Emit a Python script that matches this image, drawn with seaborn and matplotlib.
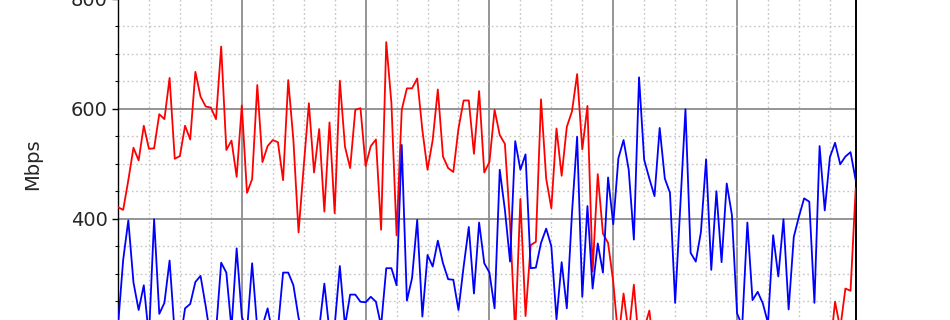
import matplotlib
matplotlib.use("Agg")
import matplotlib.pyplot as plt
from matplotlib.ticker import MultipleLocator, NullFormatter
import seaborn as sns
import pandas as pd

red_values = [
    421, 416, 470, 529, 506, 569, 527, 528, 590, 581, 656, 509, 514, 569, 544, 667,
    622, 604, 602, 581, 713, 525, 542, 476, 606, 447, 472, 643, 503, 532, 543, 539,
    470, 652, 543, 375, 495, 610, 484, 563, 413, 575, 410, 651, 531, 492, 598, 601,
    496, 532, 544, 380, 721, 610, 370, 598, 637, 637, 655, 561, 489, 543, 635, 513,
    492, 485, 564, 615, 615, 518, 632, 484, 503, 598, 552, 536, 390, 190, 436, 223,
    352, 358, 617, 473, 419, 564, 478, 567, 595, 663, 526, 605, 304, 481, 373, 356,
    285, 180, 264, 190, 280, 170, 200, 233,
    150, 185, 120, 160, 140, 195, 110, 170, 150, 130, 180, 160, 105, 145, 175, 130,
    155, 190, 120, 140, 165, 100, 150, 180, 135, 160, 115, 170, 145, 125, 190, 150,
    135, 170, 160,
    249, 200, 273, 269, 455,
]

blue_values = [
    205, 325, 397, 284, 234, 279, 185, 399, 227, 247, 324, 190, 175, 237, 245, 285,
    296, 241, 180, 195, 320, 302, 200, 346, 222, 195, 319, 200, 205, 237, 190, 200,
    302, 302, 279, 220, 180, 170, 185, 200, 282, 195, 205, 314, 205, 262, 262, 249,
    248, 258, 249, 205, 310, 310, 279, 534, 251, 292, 398, 222, 334, 313, 360, 319,
    290, 289, 234, 313, 385, 264, 393, 319, 302, 237, 489, 416, 322, 541, 489, 517,
    310, 311, 356, 382, 350, 217, 321, 237, 410, 549, 258, 423, 273, 355, 302, 475,
    390, 510, 543, 489, 362, 657, 507, 473, 441, 565, 473, 447, 247, 422, 599, 338,
    322, 376, 508, 307, 450, 321, 464, 407, 228, 205, 393, 252, 267, 246, 210, 370,
    295, 399, 235, 367, 404, 437, 431, 247, 532, 415, 512, 538, 499, 513, 521, 470,
]

sample_index = list(range(len(blue_values)))
y_ticks = [400, 600, 800]
y_label = "Mbps"

df = pd.DataFrame({"t": sample_index, "red": red_values, "blue": blue_values})

sns.set_style("white")
plt.rcParams["font.family"] = ["DejaVu Sans"]

fig = plt.figure(figsize=(9.5, 3.2), dpi=100)
ax = fig.add_axes([118 / 950, -8.7 / 320, 737.7 / 950, 330.0 / 320])

sns.lineplot(data=df, x="t", y="red", color="#ff0000", linewidth=1.3, ax=ax, zorder=3)
sns.lineplot(data=df, x="t", y="blue", color="#0000ff", linewidth=1.3, ax=ax, zorder=3)

ax.set_xlim(0, 143)
ax.set_ylim(200, 800)
ax.xaxis.set_major_locator(MultipleLocator(24))
ax.xaxis.set_minor_locator(MultipleLocator(6))
ax.set_yticks(y_ticks)
ax.yaxis.set_minor_locator(MultipleLocator(50))
ax.xaxis.set_major_formatter(NullFormatter())
ax.set_xlabel("")
ax.set_ylabel(y_label, fontsize=14)
ax.yaxis.set_label_coords(-0.1026, 0.5)

ax.grid(True, which="major", color="#8c8c8c", linewidth=1.3, linestyle="-")
ax.grid(True, which="minor", color="#c4c4c4", linewidth=1.0, linestyle=(0, (1.2, 2.0)))
ax.set_axisbelow(True)

ax.tick_params(axis="y", which="major", direction="out", length=4.5, width=1,
               labelsize=14, pad=3, left=True, color="black")
ax.tick_params(axis="y", which="minor", direction="out", length=2.3, width=0.8,
               left=True, color="black")
ax.tick_params(axis="x", which="both", bottom=False, labelbottom=False)

for side in ["left", "right", "top", "bottom"]:
    ax.spines[side].set_visible(True)
    ax.spines[side].set_color("black")
ax.spines["left"].set_linewidth(1.0)
ax.spines["right"].set_linewidth(1.4)

fig.savefig("out.png", dpi=100)
